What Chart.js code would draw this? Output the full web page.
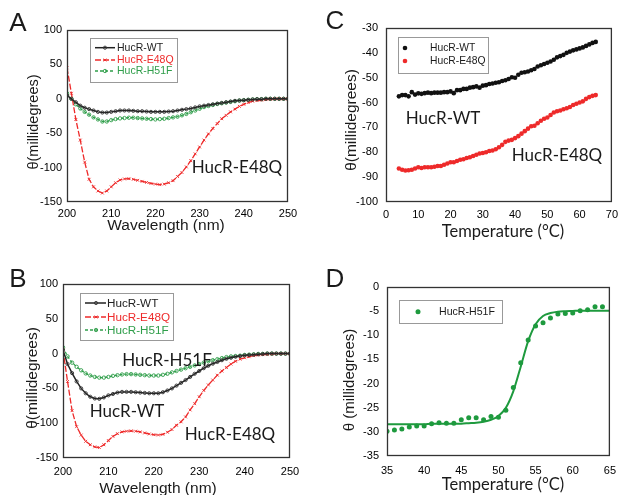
<!DOCTYPE html>
<html><head><meta charset="utf-8">
<script src="https://cdn.jsdelivr.net/npm/chart.js@4.4.1/dist/chart.umd.min.js"></script>
<style>
html,body{margin:0;padding:0;background:#fff;width:624px;height:495px;overflow:hidden;position:relative;}
canvas{position:absolute;}
.t{position:absolute;white-space:nowrap;font-family:'Liberation Sans',Arial,sans-serif;color:#1a1a1a;transform:translate(-50%,-50%);line-height:1;}
.r{transform:translate(-50%,-50%) rotate(-90deg);}
.cal{font-family:Lato,'Liberation Sans',sans-serif;}
</style></head><body>
<canvas id="cA" style="left:0;top:0" width="312" height="247"></canvas>
<canvas id="cC" style="left:312px;top:0" width="312" height="247"></canvas>
<canvas id="cB" style="left:0;top:247px" width="312" height="248"></canvas>
<canvas id="cD" style="left:312px;top:247px" width="312" height="248"></canvas>

<div class="t" style="left:18px;top:22px;font-size:26px">A</div>
<div class="t" style="left:335px;top:20px;font-size:26px">C</div>
<div class="t" style="left:18px;top:278px;font-size:26px">B</div>
<div class="t" style="left:335px;top:278px;font-size:26px">D</div>

<div class="t r" style="left:33px;top:122px;font-size:14.5px">θ(millidegrees)</div>
<div class="t" style="left:166px;top:225px;font-size:15.5px">Wavelength (nm)</div>
<div class="t r" style="left:351px;top:120px;font-size:15.5px">θ(millidegrees)</div>
<div class="t cal" style="left:503px;top:231px;font-size:16.5px">Temperature (°C)</div>
<div class="t r" style="left:32px;top:378px;font-size:15.5px">θ(millidegrees)</div>
<div class="t" style="left:158px;top:488px;font-size:15.5px">Wavelength (nm)</div>
<div class="t r" style="left:348px;top:380px;font-size:15px">θ (millidegrees)</div>
<div class="t cal" style="left:503px;top:484px;font-size:16.5px">Temperature (°C)</div>

<div class="t cal" style="left:237px;top:166px;font-size:17px">HucR-E48Q</div>
<div class="t cal" style="left:443px;top:117px;font-size:17px">HucR-WT</div>
<div class="t cal" style="left:557px;top:154px;font-size:17px">HucR-E48Q</div>
<div class="t cal" style="left:167px;top:359px;font-size:17px">HucR-H51F</div>
<div class="t cal" style="left:127px;top:410px;font-size:17px">HucR-WT</div>
<div class="t cal" style="left:230px;top:433px;font-size:17px">HucR-E48Q</div>

<script>
// ---------- DATA ----------
const wavelengthNm = [200,201,202,203,204,205,206,207,208,209,210,211,212,213,214,215,216,217,218,219,220,221,222,223,224,225,226,227,228,229,230,231,232,233,234,235,236,237,238,239,240,241,242,243,244,245,246,247,248,249,250];

// Panel A
const A_WT   = [5,0,-5,-10,-13,-15,-17,-19,-20,-20,-19,-18,-17,-17,-17,-17.5,-18,-18,-18.5,-19,-19,-19,-19,-18.5,-18,-17,-16,-15,-14,-12.5,-11,-10,-9,-8,-7,-6,-5,-4,-3,-2.5,-2,-1.5,-1,-0.5,-0.5,0,0,0,0,0,0];
const A_E48Q = [45,8,-30,-60,-92,-117,-128,-134,-137,-134,-128,-122,-118,-116.5,-116,-117,-118.5,-120,-121.5,-123,-124,-124.8,-124,-122,-119,-113,-107,-99,-90,-80,-70,-60,-51,-43,-36,-29,-24,-19,-15,-11,-8,-5.5,-3.5,-2.5,-2,-1,-0.5,0,0,0,0];
const A_H51F = [8,0,-8,-14,-19,-23,-27,-30,-33,-33,-31,-29.5,-28.5,-28,-27.5,-27.5,-28,-28.5,-29,-29.5,-30,-29.5,-29,-28,-27,-26,-24,-22,-19.5,-17,-14.5,-12,-10.5,-9,-7.5,-6.5,-5.5,-4.5,-3.5,-2.5,-2,-1.5,-1,-0.5,-0.5,0,0,0,0,0,0];

// Panel B
const B_WT   = [5,-15,-28,-40,-50,-57,-62,-64.5,-65,-63,-60,-58,-56,-55,-55,-55,-55.5,-56,-56.5,-57,-57,-57,-55.5,-53,-50,-46,-42,-38,-33.5,-29,-25,-21,-17.5,-14.5,-12,-9.5,-7.5,-6,-4.5,-3.5,-2.5,-2,-1.5,-1,-0.5,0,0,0,0,0,0];
const B_E48Q = [5,-40,-82,-105,-117,-126,-131,-134,-135,-131,-125,-119,-115,-112.5,-111.5,-111,-111.5,-112.5,-114,-115.5,-116.5,-117,-116,-113,-109,-103,-98,-91,-81,-72,-62,-53,-45,-38,-31,-25,-20,-15,-11,-8,-6,-4.5,-3,-2,-1.5,-1,-0.5,0,0,0,0];
const B_H51F = [9,-4,-13,-19,-24,-28.5,-31.5,-33.5,-34.5,-34.5,-33.5,-32,-31,-30,-29.5,-29.5,-30,-30.5,-31,-31.5,-31.5,-31.5,-30.5,-29,-27,-25,-23,-21,-19,-17,-15,-13,-11,-9.5,-8,-6.5,-5,-4,-3.5,-3,-2,-1.5,-1,-0.5,-0.5,0,0,0,0,0,0];

// Panel C
const tempC = [4,5,6,7,8,9,10,11,12,13,14,15,16,17,18,19,20,21,22,23,24,25,26,27,28,29,30,31,32,33,34,35,36,37,38,39,40,41,42,43,44,45,46,47,48,49,50,51,52,53,54,55,56,57,58,59,60,61,62,63,64,65];
const C_WT   = [-57.5,-57,-57,-57.5,-55.8,-56.8,-56.3,-56.5,-56.2,-56,-56.2,-56,-56,-56,-55.8,-55.8,-55.5,-56.2,-55,-55,-54.5,-54.5,-54,-53.8,-53.5,-54,-53.2,-53,-52.5,-52.3,-52,-51.8,-51.3,-51,-50.5,-49.8,-50,-48.8,-48,-47.8,-47.5,-47,-46.5,-45.5,-45,-44.5,-44,-43.5,-42.8,-41.8,-41.3,-40.8,-40,-39.5,-39,-38.6,-38.2,-37.8,-37.2,-36.6,-36,-35.6];
const C_E48Q = [-86.5,-87,-87.3,-87.2,-87,-86.5,-86,-86.3,-86,-86,-86,-85.8,-85.5,-85.5,-85,-84.5,-84,-84,-83.5,-83,-82.8,-82.3,-82,-81.5,-81,-80.5,-80.3,-80,-79.5,-79.3,-78.8,-78,-77,-75.8,-75.3,-75,-74.3,-73.5,-72.5,-71.5,-70.5,-69.5,-69.3,-68.3,-67.3,-66.5,-66,-65,-64,-63.5,-63.2,-62.7,-62.3,-61.8,-61,-60.5,-60,-59.5,-58.5,-57.8,-57.3,-57];

// Panel D
const tempD  = [35,36,37,38,39,40,41,42,43,44,45,46,47,48,49,50,51,52,53,54,55,56,57,58,59,60,61,62,63,64];
const D_H51F = [-29.9,-29.6,-29.4,-29.0,-28.8,-28.8,-28.3,-28.1,-28.2,-28.2,-27.5,-27.1,-27.1,-27.5,-26.8,-27.0,-25.5,-20.8,-15.7,-11.0,-8.1,-7.4,-6.4,-5.6,-5.5,-5.4,-4.9,-4.7,-4.1,-4.1];
const fitT   = [35,36,37,38,39,40,41,42,43,44,45,46,47,48,49,50,51,52,53,54,55,56,57,58,59,60,61,62,63,64,65];
const D_FIT  = [-28.4,-28.4,-28.4,-28.4,-28.4,-28.4,-28.3,-28.3,-28.3,-28.3,-28.3,-28.2,-28.1,-27.9,-27.5,-26.7,-25.0,-21.6,-16.5,-11.2,-7.7,-6.0,-5.4,-5.1,-5.0,-4.95,-4.9,-4.9,-4.9,-4.9,-4.9];

// ---------- helpers ----------
const pts = (xs, ys) => xs.map((x, i) => ({x, y: ys[i]}));
const BLACK = '#222222', RED = '#ee2a2a', GREEN = '#2f9e4a';

const frameLegend = {
  id: 'frameLegend',
  afterDraw(chart, args, o) {
    const ctx = chart.ctx, a = chart.chartArea;
    ctx.save();
    ctx.strokeStyle = '#333';
    ctx.lineWidth = 1.3;
    ctx.strokeRect(a.left + 0.5, a.top + 0.5, a.right - a.left - 1, a.bottom - a.top - 1);
    const L = o.legend;
    if (L) {
      ctx.fillStyle = '#fff';
      ctx.fillRect(L.x, L.y, L.w, L.h);
      ctx.strokeStyle = '#999'; ctx.lineWidth = 1;
      ctx.strokeRect(L.x + 0.5, L.y + 0.5, L.w, L.h);
      ctx.font = L.font; ctx.textBaseline = 'middle'; ctx.textAlign = 'left';
      L.rows.forEach(r => {
        const ds = chart.data.datasets[r.ds];
        if (L.line) {
          ctx.save();
          ctx.strokeStyle = ds.borderColor; ctx.lineWidth = ds.borderWidth;
          ctx.setLineDash(ds.borderDash || []);
          ctx.beginPath(); ctx.moveTo(L.sx0, r.y); ctx.lineTo(L.sx1, r.y); ctx.stroke();
          ctx.restore();
        }
        ctx.save();
        ctx.setLineDash([]);
        ctx.strokeStyle = ds.pointBorderColor || ds.borderColor;
        ctx.fillStyle = ds.pointBackgroundColor || ds.backgroundColor;
        ctx.lineWidth = ds.pointBorderWidth || 1;
        Chart.helpers.drawPoint(ctx, {pointStyle: ds.pointStyle || 'circle', radius: ds.pointRadius, rotation: 0, borderWidth: ds.pointBorderWidth || 0}, L.mx, r.y);
        ctx.restore();
        ctx.fillStyle = r.color;
        ctx.fillText(ds.label, L.tx, r.y + 0.5);
      });
    }
    ctx.restore();
  }
};

function axes(xmin, xmax, xstep, ymin, ymax, ystep, yW, xH, yPad, xPad) {
  const tick = {font: {family: "'Liberation Sans', Arial, sans-serif", size: 11}, color: '#000', autoSkip: false};
  return {
    x: {type: 'linear', min: xmin, max: xmax, grid: {display: false, drawTicks: false}, border: {display: false},
        ticks: Object.assign({}, tick, {stepSize: xstep, padding: xPad, maxRotation: 0}), afterFit(s) { s.height = xH; }},
    y: {type: 'linear', min: ymin, max: ymax, grid: {display: false, drawTicks: false}, border: {display: false},
        ticks: Object.assign({}, tick, {stepSize: ystep, padding: yPad}), afterFit(s) { s.width = yW; }}
  };
}

function cdSets(wt, e48, h51) {
  return [
    {label: 'HucR-WT', data: pts(wavelengthNm, wt), showLine: true, borderColor: BLACK, borderWidth: 1.5,
     pointStyle: 'circle', pointRadius: 1.6, pointBorderWidth: 0.9, pointBorderColor: '#333', pointBackgroundColor: 'rgba(255,255,255,0)'},
    {label: 'HucR-E48Q', data: pts(wavelengthNm, e48), showLine: true, borderColor: RED, borderWidth: 1.3, borderDash: [6, 2],
     pointStyle: 'crossRot', pointRadius: 2, pointBorderWidth: 0.9, pointBorderColor: RED, pointBackgroundColor: RED},
    {label: 'HucR-H51F', data: pts(wavelengthNm, h51), showLine: true, borderColor: GREEN, borderWidth: 1.3, borderDash: [3, 2],
     pointStyle: 'circle', pointRadius: 1.7, pointBorderWidth: 0.9, pointBorderColor: GREEN, pointBackgroundColor: 'rgba(255,255,255,0)'}
  ];
}

function make(id, datasets, scales, padding, legend) {
  return new Chart(document.getElementById(id), {
    type: 'scatter',
    data: {datasets},
    options: {
      responsive: false, animation: false, devicePixelRatio: 1,
      layout: {padding},
      scales,
      plugins: {legend: {display: false}, tooltip: {enabled: false}, frameLegend: {legend}}
    },
    plugins: [frameLegend]
  });
}

// Panel A
make('cA', cdSets(A_WT, A_E48Q, A_H51F),
  axes(200, 250, 10, -150, 100, 50, 67, 45, 5, 5),
  {left: 0, top: 30, right: 24, bottom: 0},
  {x: 90, y: 38, w: 87, h: 44, line: true, sx0: 95, sx1: 115, mx: 105, tx: 117, font: "10.5px 'Liberation Sans', Arial, sans-serif",
   rows: [{ds: 0, y: 47.7, color: BLACK}, {ds: 1, y: 60, color: RED}, {ds: 2, y: 71, color: GREEN}]});

// Panel B
make('cB', cdSets(B_WT, B_E48Q, B_H51F),
  axes(200, 250, 10, -150, 100, 50, 63, 37, 5, 7),
  {left: 0, top: 37, right: 22, bottom: 0},
  {x: 80, y: 46, w: 93, h: 47, line: true, sx0: 85, sx1: 106, mx: 96, tx: 107, font: "11.7px 'Liberation Sans', Arial, sans-serif",
   rows: [{ds: 0, y: 56, color: BLACK}, {ds: 1, y: 70, color: RED}, {ds: 2, y: 83, color: GREEN}]});

// Panel C
make('cC', [
    {label: 'HucR-WT', data: pts(tempC, C_WT), pointRadius: 2.3, pointBorderWidth: 0, backgroundColor: '#111', borderColor: '#111', pointStyle: 'circle'},
    {label: 'HucR-E48Q', data: pts(tempC, C_E48Q), pointRadius: 2.3, pointBorderWidth: 0, backgroundColor: RED, borderColor: RED, pointStyle: 'circle'}
  ],
  axes(0, 70, 10, -100, -30, 10, 74, 45, 8, 6),
  {left: 0, top: 28, right: 7, bottom: 0},
  {x: 86, y: 37, w: 90, h: 36, line: false, mx: 93, tx: 118, font: "10.3px 'Liberation Sans', Arial, sans-serif",
   rows: [{ds: 0, y: 48, color: '#1a1a1a'}, {ds: 1, y: 61, color: '#1a1a1a'}]});

// Panel D
make('cD', [
    {label: 'HucR-H51F', data: pts(tempD, D_H51F), pointRadius: 2.5, pointBorderWidth: 0, backgroundColor: '#1e9a3e', borderColor: '#1e9a3e', pointStyle: 'circle'},
    {label: 'fit', data: pts(fitT, D_FIT), showLine: true, pointRadius: 0, borderColor: '#1e9a3e', borderWidth: 2, cubicInterpolationMode: 'monotone'}
  ],
  axes(35, 65, 5, -35, 0, 5, 75, 39, 8, 8),
  {left: 0, top: 40, right: 7, bottom: 0},
  {x: 87, y: 53, w: 103, h: 23, line: false, mx: 106, tx: 127, font: "10.6px 'Liberation Sans', Arial, sans-serif",
   rows: [{ds: 0, y: 64.7, color: '#1a1a1a'}]});
</script>
</body></html>
